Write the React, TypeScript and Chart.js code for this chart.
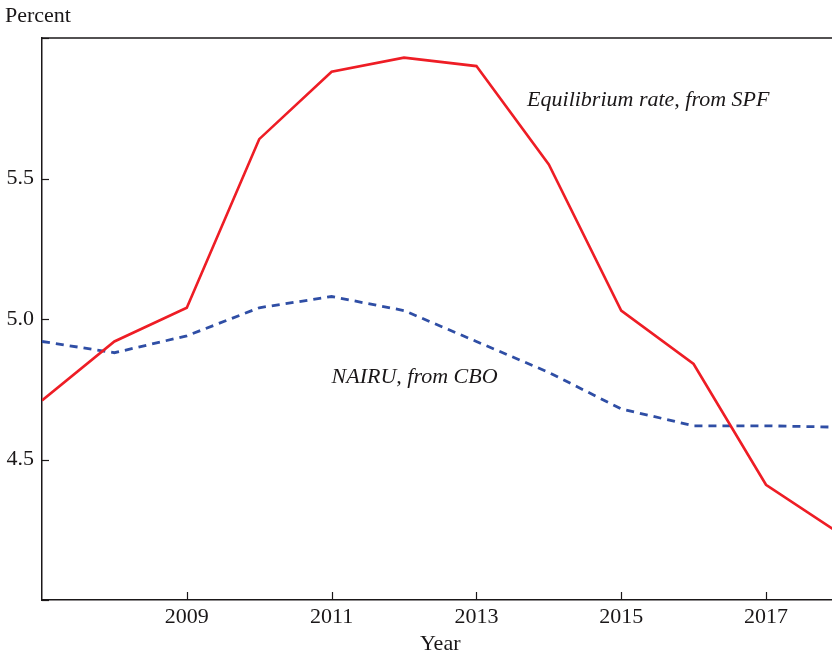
import React, { useEffect, useRef } from "react";
import { Chart, registerables } from "chart.js";

Chart.register(...registerables);

// Annual values, percent
const years = [2007, 2008, 2009, 2010, 2011, 2012, 2013, 2014, 2015, 2016, 2017, 2018];
const spfRate = [4.71, 4.92, 5.04, 5.64, 5.88, 5.93, 5.9, 5.55, 5.03, 4.84, 4.41, 4.24];
const cboNairu = [4.92, 4.88, 4.94, 5.04, 5.08, 5.03, 4.92, 4.81, 4.68, 4.62, 4.62, 4.615];
const xTickYears = [2009, 2011, 2013, 2015, 2017];
const yTickValues = [4.0, 4.5, 5.0, 5.5, 6.0];
const yLabelled = [4.5, 5.0, 5.5];

const seriesLabels = ["Equilibrium rate, from SPF", "NAIRU, from CBO"];

const SERIF = "'Liberation Serif', 'DejaVu Serif', serif";
const INK = "#1a1718";

const CANVAS_W = 850;
const CANVAS_H = 659;

// Inward tick marks, top frame line and text labels
const decorations = {
  id: "decorations",
  afterDraw(chart: any) {
    const { ctx, chartArea, scales } = chart;
    const x = scales.x;
    const y = scales.y;
    ctx.save();
    ctx.strokeStyle = INK;
    ctx.lineWidth = 1.5;
    ctx.beginPath();
    ctx.moveTo(chartArea.left, chartArea.top);
    ctx.lineTo(chartArea.right, chartArea.top);
    ctx.stroke();

    ctx.lineWidth = 1.2;
    for (const v of xTickYears) {
      const px = Math.round(x.getPixelForValue(v)) + 0.5;
      ctx.beginPath();
      ctx.moveTo(px, chartArea.bottom);
      ctx.lineTo(px, chartArea.bottom - 8);
      ctx.stroke();
    }
    for (const v of yTickValues) {
      const py = Math.round(y.getPixelForValue(v)) + 0.5;
      ctx.beginPath();
      ctx.moveTo(chartArea.left, py);
      ctx.lineTo(chartArea.left + 7, py);
      ctx.stroke();
    }

    ctx.fillStyle = INK;
    ctx.font = `22px ${SERIF}`;
    ctx.textAlign = "left";
    ctx.textBaseline = "middle";
    ctx.fillText("Percent", 5, 16);

    ctx.font = `italic 22px ${SERIF}`;
    ctx.fillText(seriesLabels[0], x.getPixelForValue(2013.7), y.getPixelForValue(5.78));
    ctx.fillText(seriesLabels[1], x.getPixelForValue(2011.0), y.getPixelForValue(4.794));
    ctx.restore();
  },
};

export default function App() {
  const canvasRef = useRef<HTMLCanvasElement | null>(null);

  useEffect(() => {
    const canvas = canvasRef.current;
    if (!canvas) return;
    const chart = new Chart(canvas, {
      type: "line",
      data: {
        datasets: [
          {
            label: seriesLabels[0],
            data: years.map((yr, i) => ({ x: yr, y: spfRate[i] })),
            borderColor: "#ee1d25",
            borderWidth: 2.6,
            pointRadius: 0,
            tension: 0,
            fill: false,
          },
          {
            label: seriesLabels[1],
            data: years.map((yr, i) => ({ x: yr, y: cboNairu[i] })),
            borderColor: "#2f4ea5",
            borderWidth: 2.8,
            borderDash: [8, 6],
            pointRadius: 0,
            tension: 0,
            fill: false,
          },
        ],
      },
      options: {
        responsive: false,
        animation: false,
        layout: { padding: { top: 38, right: CANVAS_W - 838.4, left: 0, bottom: 0 } },
        plugins: {
          legend: { display: false },
          tooltip: { enabled: false },
        },
        scales: {
          x: {
            type: "linear",
            min: 2007,
            max: 2018,
            afterFit: (scale: any) => {
              scale.height = 59;
            },
            afterBuildTicks: (scale: any) => {
              scale.ticks = xTickYears.map((v) => ({ value: v }));
            },
            grid: { display: false, drawTicks: false },
            border: { display: true, color: INK, width: 1.5 },
            ticks: {
              padding: 4,
              color: INK,
              font: { family: SERIF, size: 22 },
              maxRotation: 0,
              callback: (v: any) => String(v),
            },
            title: {
              display: true,
              text: "Year",
              color: INK,
              padding: { top: 0, bottom: 2 },
              font: { family: SERIF, size: 22 },
            },
          },
          y: {
            type: "linear",
            min: 4.0,
            max: 6.0,
            afterFit: (scale: any) => {
              scale.width = 42;
            },
            afterBuildTicks: (scale: any) => {
              scale.ticks = yLabelled.map((v) => ({ value: v }));
            },
            grid: { display: false, drawTicks: false },
            border: { display: true, color: INK, width: 1.5 },
            ticks: {
              padding: 8,
              color: INK,
              font: { family: SERIF, size: 22 },
              callback: (v: any) => Number(v).toFixed(1),
            },
          },
        },
      },
      plugins: [decorations],
    });
    return () => chart.destroy();
  }, []);

  return (
    <div
      style={{
        position: "fixed",
        left: 0,
        top: 0,
        width: 832,
        height: CANVAS_H,
        overflow: "hidden",
        background: "#fff",
      }}
    >
      <canvas ref={canvasRef} width={CANVAS_W} height={CANVAS_H} style={{ display: "block" }} />
    </div>
  );
}
